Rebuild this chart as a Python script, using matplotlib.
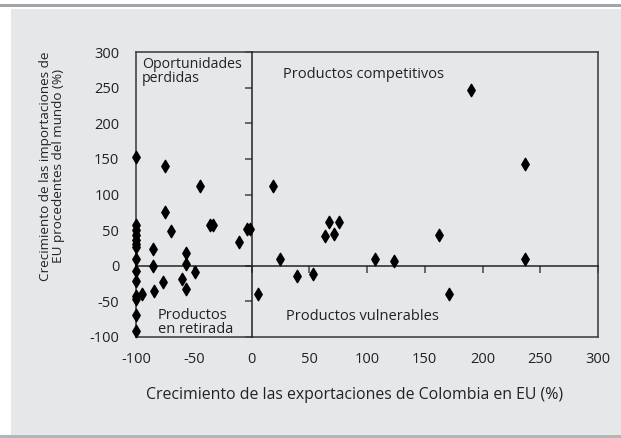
import matplotlib
matplotlib.use("Agg")
import matplotlib.pyplot as plt
from matplotlib.patches import Rectangle

plt.rcParams['font.family'] = ['Open Sans', 'DejaVu Sans']
plt.rcParams['axes.unicode_minus'] = False

# export growth of Colombia in EU (%) vs import growth of EU from world (%)
x_vals = [-100] * 14 + [-95, -85, -85, -84, -77, -75, -75, -70, -60, -57, -57, -57, -49, -45,
                         -36, -33, -11, -4, -1, 6, 19, 25, 39, 53, 64, 67, 71, 76,
                         107, 123, 162, 171, 190, 237, 237]
y_vals = [152, 57, 50, 43, 36, 31, 27, 9, -8, -22, -43, -46, -69, -91,
          -39, 24, 0, -35, -23, 140, 76, 49, -18, -33, 18, 3, -9, 112,
          57, 57, 34, 52, 52, -39, 112, 9, -15, -12, 42, 61, 45, 61,
          9, 7, 43, -39, 246, 143, 9]

xticks = [-100, -50, 0, 50, 100, 150, 200, 250, 300]
yticks = [-100, -50, 0, 50, 100, 150, 200, 250, 300]

bg = '#e6e7e9'
fig = plt.figure(figsize=(6.21, 4.38), dpi=100, facecolor='white')
fig.patches.append(Rectangle((11 / 621, 3 / 438), 1, 426 / 438, transform=fig.transFigure,
                             facecolor=bg, edgecolor='none', zorder=-10))
fig.patches.append(Rectangle((0, 0), 1, 3 / 438, transform=fig.transFigure,
                             facecolor='#b4b5b7', edgecolor='none', zorder=-10))
fig.patches.append(Rectangle((0, 431 / 438), 1, 3 / 438, transform=fig.transFigure,
                             facecolor='#a3a4a6', edgecolor='none', zorder=-10))

rect = [136 / 621, 101 / 438, 462 / 621, 285 / 438]
ax = fig.add_axes(rect)
ax.set_facecolor(bg)
ax.set_xlim(-100, 300)
ax.set_ylim(-100, 300)
ax.set_xticks(xticks)
ax.set_yticks(yticks)
for s in ax.spines.values():
    s.set_color('#444444')
    s.set_linewidth(1.2)
ax.tick_params(length=0, labelsize=10.5, colors='#222222')
ax.tick_params(axis='y', pad=12)
ax.tick_params(axis='x', pad=11)

# axes crossing at zero
ax2 = fig.add_axes(rect, sharex=ax, sharey=ax)
ax2.patch.set_visible(False)
ax2.spines['top'].set_visible(False)
ax2.spines['right'].set_visible(False)
ax2.spines['left'].set_position(('data', 0))
ax2.spines['bottom'].set_position(('data', 0))
for s in ['left', 'bottom']:
    ax2.spines[s].set_color('#222222')
    ax2.spines[s].set_linewidth(1.1)
ax2.tick_params(direction='out', length=5, width=1.1, color='#444444',
                labelleft=False, labelbottom=False)

ax2.scatter(x_vals, y_vals, marker='d', s=40, color='black', zorder=5, clip_on=False)

ax.text(-95, 293, 'Oportunidades\nperdidas', fontsize=10.2, va='top', ha='left',
        color='#222222', linespacing=0.95)
ax.text(27, 268, 'Productos competitivos', fontsize=10.5, va='center', ha='left', color='#222222')
ax.text(-81, -80, 'Productos\nen retirada', fontsize=10.5, va='center', ha='left',
        color='#222222', linespacing=0.95)
ax.text(30, -71, 'Productos vulnerables', fontsize=10.5, va='center', ha='left', color='#222222')

fig.text(355 / 621, 1 - 395 / 438, 'Crecimiento de las exportaciones de Colombia en EU (%)',
         fontsize=11.4, ha='center', va='center', color='#222222')
fig.text(52 / 621, 1 - 166 / 438, 'Crecimiento de las importaciones de\nEU procedentes del mundo (%)',
         fontsize=9.7, ha='center', va='center', rotation=90, color='#222222', linespacing=1.0)

fig.savefig('out.png', dpi=100, facecolor='white')
